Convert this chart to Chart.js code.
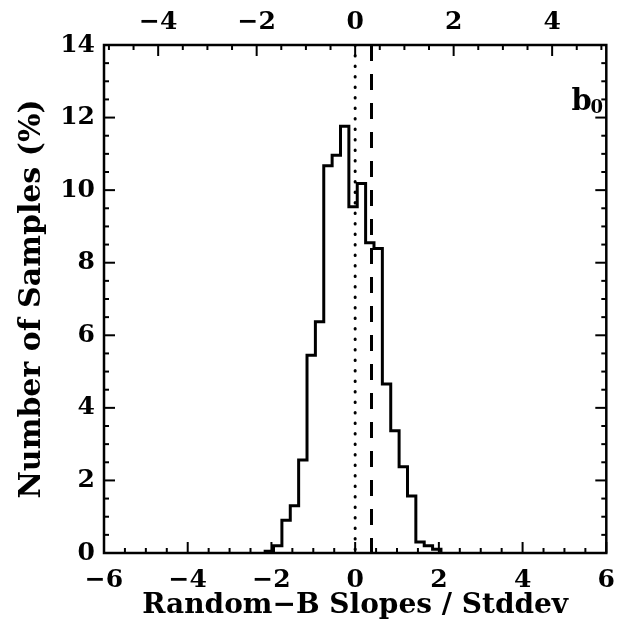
<!DOCTYPE html>
<html>
<head>
<meta charset="utf-8">
<script src="https://cdn.jsdelivr.net/npm/chart.js@4.4.1/dist/chart.umd.min.js"></script>
<style>
  html, body { margin: 0; padding: 0; background: #fff; }
  #wrap { width: 627px; height: 637px; }
</style>
</head>
<body>
<div id="wrap"><canvas id="histChart" width="627" height="637"></canvas></div>
<script>
// histogram bins (left edges) and percent of samples per bin
const binWidth = 0.2
const binLeft = [-2.15, -1.95, -1.75, -1.55, -1.35, -1.15, -0.95, -0.75, -0.55, -0.35,
                 -0.15, 0.05, 0.25, 0.45, 0.65, 0.85, 1.05, 1.25, 1.45, 1.65, 1.85]
const percent = [0.05, 0.2, 0.9, 1.3, 2.56, 5.45, 6.37, 10.67, 10.96, 11.76,
                 9.54, 10.18, 8.55, 8.39, 4.66, 3.37, 2.38, 1.57, 0.3, 0.2, 0.1]

// reference lines
const zeroLine = 0
const dashedLine = 0.39

// axes
const xTicks = [-6, -4, -2, 0, 2, 4, 6]
const topTicks = [-4, -2, 0, 2, 4]
const yTicks = [0, 2, 4, 6, 8, 10, 12, 14]
const xRange = [-6, 6]
const topRange = [-5.1, 5.1]
const yRange = [0, 14]

const FONT = "'DejaVu Serif', 'Liberation Serif', serif"

const histPoints = [{ x: binLeft[0], y: 0 }]
binLeft.forEach((x, i) => histPoints.push({ x: x, y: percent[i] }))
const lastRight = binLeft[binLeft.length - 1] + binWidth
histPoints.push({ x: lastRight, y: percent[percent.length - 1] })
histPoints.push({ x: lastRight, y: 0 })

const useTicks = (list) => (scale) => { scale.ticks = list.map(v => ({ value: v })) }
const minus = (v) => String(v).replace('-', '\u2212')

// frame, inward major/minor ticks, panel label
const framePlugin = {
    id: 'frame',
    afterDraw(chart) {
        const ctx = chart.ctx
        const a = chart.chartArea
        const sx = chart.scales.x, st = chart.scales.x2, sy = chart.scales.y
        ctx.save()
        ctx.strokeStyle = '#000'
        ctx.lineWidth = 2.5
        ctx.strokeRect(a.left, a.top, a.right - a.left, a.bottom - a.top)

        ctx.lineWidth = 2
        const tick = (x1, y1, x2, y2) => { ctx.beginPath(); ctx.moveTo(x1, y1); ctx.lineTo(x2, y2); ctx.stroke() }
        for (let v = xRange[0]; v <= xRange[1] + 1e-9; v += 0.5) {
            const px = sx.getPixelForValue(v)
            const len = Math.abs(v % 2) < 1e-9 ? 11 : 5
            tick(px, a.bottom, px, a.bottom - len)
        }
        for (let v = -5; v <= 5 + 1e-9; v += 0.5) {
            const px = st.getPixelForValue(v)
            const len = Math.abs(v % 2) < 1e-9 ? 11 : 5
            tick(px, a.top, px, a.top + len)
        }
        for (let v = yRange[0]; v <= yRange[1] + 1e-9; v += 0.5) {
            const py = sy.getPixelForValue(v)
            const len = Math.abs(v % 2) < 1e-9 ? 11 : 5
            tick(a.left, py, a.left + len, py)
            tick(a.right, py, a.right - len, py)
        }

        // b0 label
        ctx.fillStyle = '#000'
        ctx.textBaseline = 'alphabetic'
        ctx.font = "bold 29px " + FONT
        const bx = sx.getPixelForValue(5.17), by = sy.getPixelForValue(12.22)
        ctx.fillText('b', bx, by)
        ctx.font = "bold 18px " + FONT
        ctx.fillText('0', bx + 19, by + 3)
        ctx.restore()
    }
}

const tickFont = { family: FONT, size: 25, weight: 'bold' }

new Chart(document.getElementById('histChart').getContext('2d'), {
    type: 'line',
    data: {
        datasets: [{
            data: histPoints,
            stepped: 'before',
            borderColor: '#000',
            borderWidth: 3,
            pointRadius: 0,
            fill: false,
        }, {
            data: [{ x: zeroLine, y: yRange[1] }, { x: zeroLine, y: yRange[0] }],
            borderColor: '#000',
            borderWidth: 3,
            borderDash: [0.5, 10],
            borderCapStyle: 'round',
            pointRadius: 0,
        }, {
            data: [{ x: dashedLine, y: yRange[1] }, { x: dashedLine, y: yRange[0] }],
            borderColor: '#000',
            borderWidth: 3,
            borderDash: [16, 13],
            pointRadius: 0,
        }]
    },
    options: {
        responsive: false,
        animation: false,
        layout: { padding: { right: 19, left: 0, top: 0, bottom: 0 } },
        plugins: { legend: { display: false }, tooltip: { enabled: false } },
        scales: {
            x: {
                type: 'linear',
                position: 'bottom',
                min: xRange[0], max: xRange[1],
                afterBuildTicks: useTicks(xTicks),
                afterFit: (s) => { s.height = 84 },
                grid: { display: false, drawTicks: false },
                border: { display: false },
                ticks: { font: tickFont, color: '#000', padding: 12, maxRotation: 0, autoSkip: false, callback: minus },
                title: { display: true, text: 'Random\u2212B Slopes / Stddev', color: '#000',
                         font: { family: FONT, size: 28, weight: 'bold' }, padding: { top: 0, bottom: 14 } }
            },
            x2: {
                type: 'linear',
                position: 'top',
                display: true,
                min: topRange[0], max: topRange[1],
                afterBuildTicks: useTicks(topTicks),
                afterFit: (s) => { s.height = 45 },
                grid: { display: false, drawTicks: false },
                border: { display: false },
                ticks: { font: tickFont, color: '#000', padding: 8, maxRotation: 0, autoSkip: false, callback: minus }
            },
            y: {
                type: 'linear',
                min: yRange[0], max: yRange[1],
                afterBuildTicks: useTicks(yTicks),
                afterFit: (s) => { s.width = 104 },
                grid: { display: false, drawTicks: false },
                border: { display: false },
                ticks: { font: tickFont, color: '#000', padding: 9, autoSkip: false },
                title: { display: true, text: 'Number of Samples (%)', color: '#000',
                         font: { family: FONT, size: 30, weight: 'bold' }, padding: { top: 14, bottom: 0 } }
            }
        }
    },
    plugins: [framePlugin]
});
</script>
</body>
</html>
